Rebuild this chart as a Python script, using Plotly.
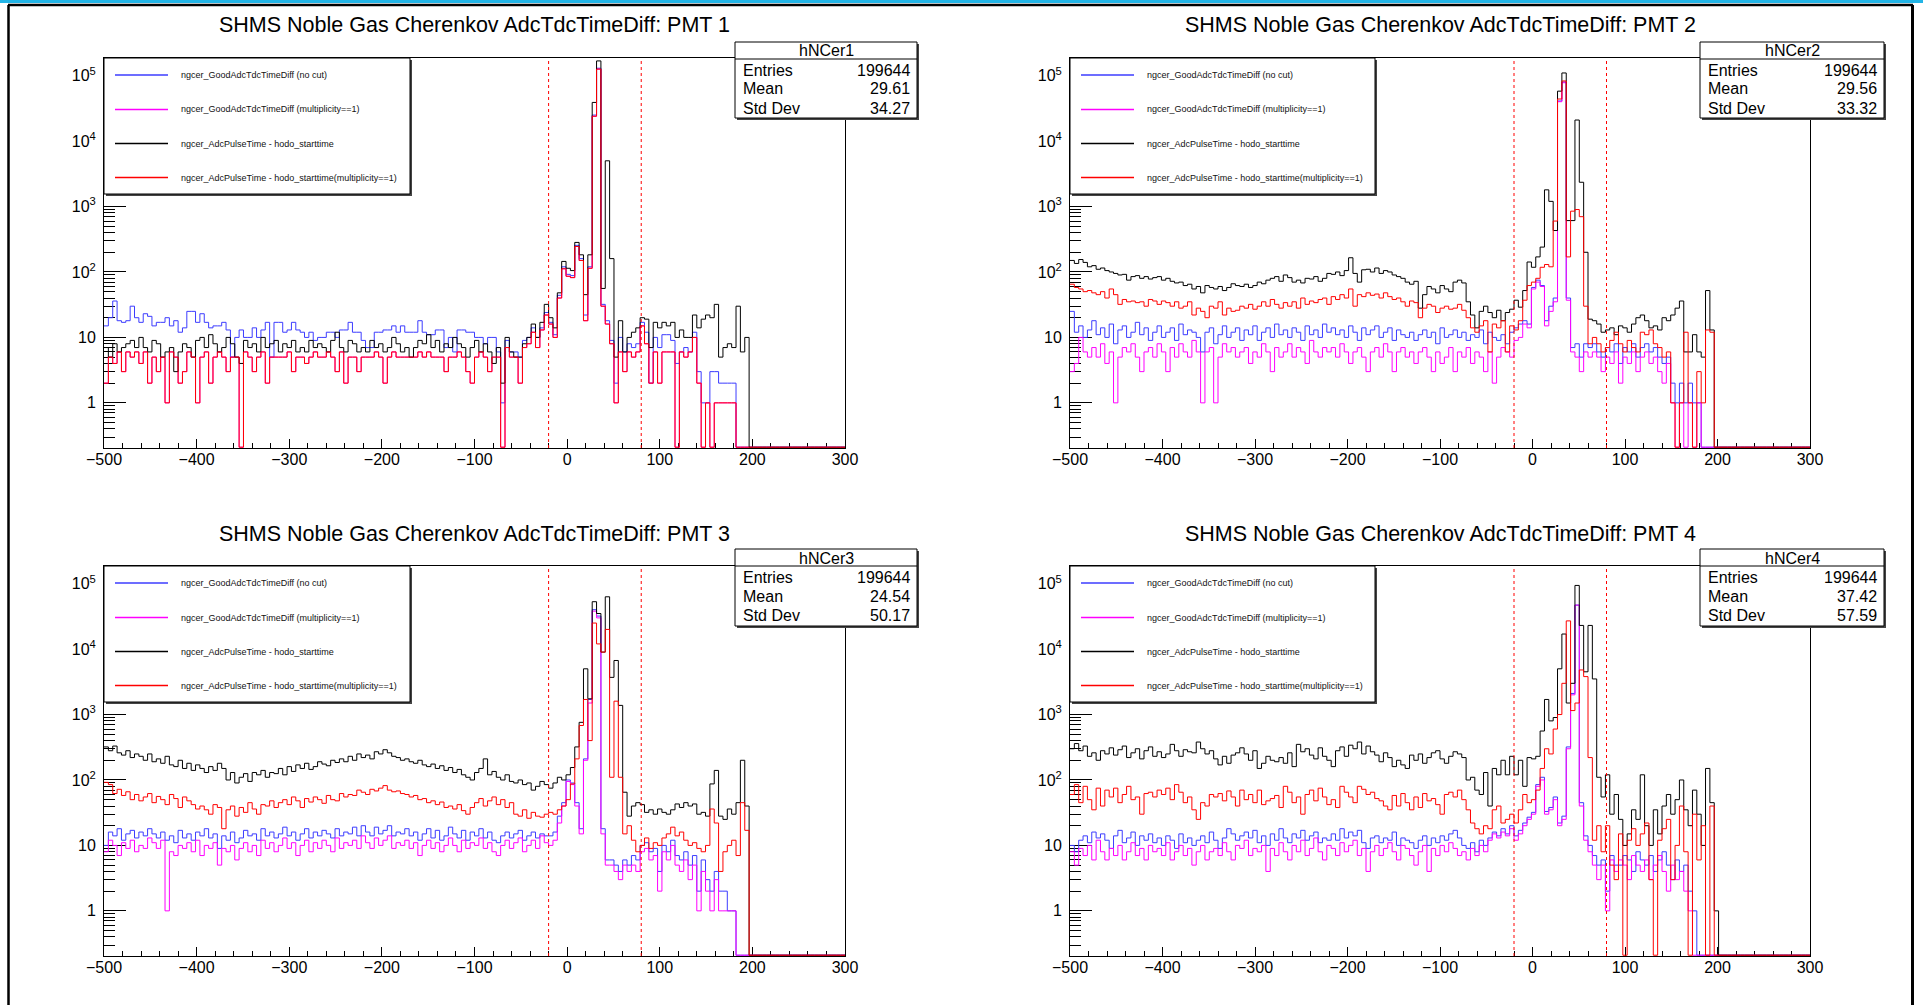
import plotly.graph_objects as go

# ------------------------------------------------------------------ data
X_MIN, X_MAX, N_BINS = -500.0, 300.0, 170
Y_LOG_RANGE = [-0.69, 5.27]
CUT_LINES = [-20, 80]

TITLES = ["SHMS Noble Gas Cherenkov AdcTdcTimeDiff: PMT 1",
          "SHMS Noble Gas Cherenkov AdcTdcTimeDiff: PMT 2",
          "SHMS Noble Gas Cherenkov AdcTdcTimeDiff: PMT 3",
          "SHMS Noble Gas Cherenkov AdcTdcTimeDiff: PMT 4"]
HIST_NAMES = ["hNCer1", "hNCer2", "hNCer3", "hNCer4"]
ENTRIES = [199644, 199644, 199644, 199644]
MEANS = ["29.61", "29.56", "24.54", "37.42"]
STD_DEVS = ["34.27", "33.32", "50.17", "57.59"]
STAT_LABELS = ["Entries", "Mean", "Std Dev"]

LEGEND_LABELS = ["ngcer_GoodAdcTdcTimeDiff (no cut)",
                 "ngcer_GoodAdcTdcTimeDiff (multiplicity==1)",
                 "ngcer_AdcPulseTime - hodo_starttime",
                 "ngcer_AdcPulseTime - hodo_starttime(multiplicity==1)"]
SERIES_COLORS = ["#3c3cff", "#ff00ff", "#000000", "#ff0000"]

X_TICKS = [-500, -400, -300, -200, -100, 0, 100, 200, 300]
X_TICK_TEXT = ["\u2212500", "\u2212400", "\u2212300", "\u2212200", "\u2212100", "0", "100", "200", "300"]
Y_TICKS = [1, 10, 100, 1000, 10000, 100000]
Y_TICK_TEXT = ["1", "10", "10<sup>2</sup>", "10<sup>3</sup>", "10<sup>4</sup>", "10<sup>5</sup>"]

# ---- PMT 1 (170 bins, -500 .. 300)
P1_BLUE = [
    15, 20, 36, 18, 17, 18, 30, 20, 17, 23,
    21, 15, 17, 17, 20, 15, 18, 12, 14, 25,
    25, 17, 23, 17, 14, 15, 15, 17, 13, 5,
    10, 13, 10, 10, 14, 10, 13, 17, 5, 17,
    17, 12, 13, 17, 13, 12, 10, 12, 9, 10,
    10, 12, 12, 10, 13, 13, 17, 12, 12, 9,
    7, 7, 12, 12, 13, 13, 15, 12, 15, 12,
    12, 12, 18, 12, 11, 11, 13, 13, 7, 10,
    6, 13, 13, 12, 12, 10, 10, 8, 10, 10,
    6, 1, 9, 6, 6, 5, 9, 10, 14, 10,
    14, 24, 17, 11, 44, 120, 92, 88, 255, 160,
    22, 120, 25000, 130000, 32, 18, 9, 2, 10, 6,
    8, 7, 8, 17, 12, 2, 10, 7, 11, 11,
    9, 4, 6, 7, 6, 12, 3, 1, 1, 3,
    3, 2, 2, 2, 2, 0, 0, 0, 0, 0,
    0, 0, 0, 0, 0, 0, 0, 0, 0, 0,
    0, 0, 0, 0, 0, 0, 0, 0, 0, 0]
P1_MAGENTA = [
    2, 5, 4, 6, 3, 6, 5, 6, 4, 6,
    2, 5, 3, 5, 1, 6, 5, 2, 3, 6,
    5, 1, 5, 6, 2, 5, 6, 5, 3, 5,
    5, 0, 6, 5, 3, 5, 6, 2, 5, 5,
    5, 5, 6, 3, 5, 5, 4, 5, 6, 5,
    5, 6, 5, 3, 6, 2, 5, 5, 3, 5,
    5, 5, 6, 5, 2, 5, 6, 5, 5, 5,
    5, 5, 6, 5, 6, 5, 5, 5, 3, 5,
    5, 6, 5, 3, 2, 5, 6, 5, 3, 5,
    5, 0, 7, 5, 5, 2, 7, 8, 12, 7,
    13, 22, 16, 10, 40, 112, 86, 82, 245, 150,
    18, 114, 24000, 126000, 30, 16, 8, 1, 6, 3,
    6, 5, 6, 15, 8, 2, 6, 2, 6, 6,
    6, 0, 6, 5, 6, 10, 2, 0, 1, 0,
    1, 1, 1, 1, 1, 0, 0, 0, 0, 0,
    0, 0, 0, 0, 0, 0, 0, 0, 0, 0,
    0, 0, 0, 0, 0, 0, 0, 0, 0, 0]
P1_BLACK = [
    7, 5, 8, 6, 7, 8, 9, 7, 10, 7,
    6, 9, 8, 5, 6, 7, 3, 6, 8, 7,
    5, 9, 10, 7, 11, 8, 6, 7, 10, 8,
    5, 4, 9, 7, 8, 6, 10, 7, 8, 9,
    6, 8, 7, 9, 6, 7, 6, 9, 7, 8,
    7, 6, 9, 12, 7, 6, 9, 8, 6, 7,
    6, 9, 7, 8, 6, 7, 10, 8, 6, 7,
    5, 7, 9, 8, 11, 7, 9, 6, 8, 7,
    10, 8, 7, 5, 7, 9, 6, 8, 6, 4,
    7, 2, 10, 6, 5, 5, 8, 10, 16, 10,
    17, 32, 20, 14, 48, 145, 114, 105, 283, 183,
    45, 183, 39000, 168000, 56, 5000, 160, 5, 18, 6,
    10, 12, 14, 20, 19, 7, 17, 14, 17, 15,
    17, 10, 13, 10, 10, 22, 14, 19, 22, 20,
    32, 5, 7, 8, 7, 30, 6, 10, 0, 0,
    0, 0, 0, 0, 0, 0, 0, 0, 0, 0,
    0, 0, 0, 0, 0, 0, 0, 0, 0, 0]
P1_RED = [
    2, 5, 4, 6, 3, 6, 5, 6, 4, 6,
    2, 5, 3, 5, 1, 6, 5, 2, 3, 6,
    5, 1, 5, 6, 2, 5, 6, 5, 3, 5,
    5, 0, 6, 5, 3, 5, 6, 2, 5, 5,
    5, 5, 6, 3, 5, 5, 4, 5, 6, 5,
    5, 6, 5, 3, 6, 2, 5, 5, 3, 5,
    5, 5, 6, 5, 2, 5, 6, 5, 5, 5,
    5, 5, 6, 5, 6, 5, 5, 5, 3, 5,
    5, 6, 5, 3, 2, 5, 6, 5, 3, 5,
    5, 0, 7, 5, 5, 2, 7, 8, 12, 7,
    13, 22, 16, 10, 40, 112, 86, 82, 245, 150,
    18, 114, 24000, 126000, 30, 16, 8, 1, 6, 3,
    6, 5, 6, 15, 8, 2, 6, 2, 6, 6,
    6, 0, 6, 5, 6, 10, 2, 0, 1, 0,
    1, 1, 1, 1, 1, 0, 0, 0, 0, 0,
    0, 0, 0, 0, 0, 0, 0, 0, 0, 0,
    0, 0, 0, 0, 0, 0, 0, 0, 0, 0]

# ---- PMT 2
P2_BLUE = [
    25, 12, 15, 10, 13, 18, 11, 14, 10, 16,
    8, 13, 15, 10, 12, 17, 11, 14, 9, 12,
    15, 10, 12, 14, 9, 16, 11, 13, 12, 10,
    6, 12, 14, 8, 11, 15, 10, 12, 14, 9,
    13, 11, 15, 9, 12, 14, 10, 16, 11, 13,
    10, 14, 12, 9, 15, 11, 13, 10, 16, 12,
    14, 11, 13, 10, 15, 12, 9, 14, 11, 13,
    15, 10, 12, 14, 9, 13, 11, 10, 12, 9,
    11, 13, 10, 12, 8, 14, 10, 11, 13, 10,
    12, 9, 11, 10, 13, 8, 12, 10, 9, 11,
    8, 12, 14, 16, 18, 16, 58, 75, 62, 18,
    30, 40, 41000, 80000, 40, 7, 8, 5, 8, 7,
    8, 6, 5, 7, 6, 8, 4, 7, 6, 8,
    5, 7, 8, 6, 7, 5, 4, 5, 2, 1,
    2, 1, 2, 1, 1, 0, 0, 0, 0, 0,
    0, 0, 0, 0, 0, 0, 0, 0, 0, 0,
    0, 0, 0, 0, 0, 0, 0, 0, 0, 0]
P2_MAGENTA = [
    3, 4, 10, 6, 5, 7, 5, 8, 4, 6,
    1, 5, 7, 6, 8, 5, 3, 6, 7, 5,
    8, 6, 3, 7, 5, 8, 6, 5, 9, 6,
    1, 6, 7, 1, 5, 8, 6, 7, 5, 6,
    7, 4, 6, 5, 8, 6, 3, 7, 5, 6,
    8, 5, 7, 6, 4, 9, 6, 5, 7, 6,
    7, 5, 8, 6, 4, 6, 7, 5, 3, 6,
    7, 5, 8, 6, 3, 6, 7, 5, 6, 4,
    6, 7, 5, 3, 6, 4, 5, 7, 3, 6,
    5, 7, 4, 6, 5, 3, 6, 2, 5, 7,
    6, 5, 9, 10, 16, 14, 55, 70, 60, 15,
    25, 35, 40000, 78000, 37, 6, 5, 3, 6, 5,
    6, 5, 3, 5, 4, 6, 2, 5, 4, 6,
    3, 5, 6, 4, 5, 3, 2, 4, 1, 0,
    1, 0, 1, 0, 1, 0, 0, 0, 0, 0,
    0, 0, 0, 0, 0, 0, 0, 0, 0, 0,
    0, 0, 0, 0, 0, 0, 0, 0, 0, 0]
P2_BLACK = [
    150, 135, 155, 140, 120, 125, 110, 115, 105, 100,
    95, 90, 92, 75, 85, 88, 80, 85, 78, 82,
    85, 75, 80, 72, 68, 70, 62, 65, 55, 60,
    48, 62, 58, 55, 60, 52, 58, 66, 62, 60,
    65, 58, 62, 70, 66, 75, 80, 85, 72, 90,
    82, 70, 75, 68, 80, 78, 85, 72, 80, 95,
    92, 100, 88, 105, 165, 95, 70, 108, 110, 100,
    115, 95, 105, 100, 90, 85, 80, 70, 65, 72,
    28, 45, 60, 55, 48, 62, 55, 50, 70, 75,
    68, 35, 22, 14, 25, 30, 24, 20, 26, 18,
    24, 27, 37, 29, 52, 142, 118, 170, 240, 1800,
    1200, 430, 58000, 110000, 610, 610, 21000, 2350, 200, 19,
    18, 16, 12, 13, 14, 11, 15, 14, 12, 16,
    20, 22, 18, 14, 15, 13, 20, 18, 22, 28,
    36, 6, 6, 11, 6, 5, 52, 13, 0, 0,
    0, 0, 0, 0, 0, 0, 0, 0, 0, 0,
    0, 0, 0, 0, 0, 0, 0, 0, 0, 0]
P2_RED = [
    65, 58, 55, 50, 52, 48, 45, 50, 40, 55,
    45, 32, 38, 35, 36, 34, 35, 30, 38, 36,
    32, 36, 34, 30, 35, 28, 30, 35, 22, 28,
    25, 20, 30, 28, 35, 22, 28, 25, 26, 30,
    28, 32, 27, 30, 35, 30, 38, 32, 28, 34,
    30, 35, 28, 40, 32, 36, 34, 38, 40, 32,
    42, 38, 45, 40, 55, 30, 45, 42, 48, 44,
    46, 40, 48, 42, 38, 40, 35, 30, 36, 34,
    20, 28, 32, 30, 24, 28, 30, 27, 28, 32,
    26, 20, 14, 12, 15, 18, 6, 16, 14, 18,
    6, 15, 13, 18, 37, 62, 70, 80, 118, 130,
    120, 600, 44000, 83000, 170, 850, 900, 700, 30, 8,
    10, 8, 6, 7, 9, 12, 8, 6, 9, 7,
    6, 12, 11, 13, 8, 7, 5, 6, 1, 0,
    1, 12, 1, 0, 3, 1, 13, 12, 0, 0,
    0, 0, 0, 0, 0, 0, 0, 0, 0, 0,
    0, 0, 0, 0, 0, 0, 0, 0, 0, 0]

# ---- PMT 3
P3_BLUE = [
    10, 16, 14, 18, 12, 15, 17, 13, 16, 14,
    18, 15, 13, 16, 12, 14, 11, 17, 13, 15,
    12, 16, 14, 18, 13, 15, 9, 14, 12, 16,
    11, 13, 17, 14, 15, 12, 18, 14, 16, 13,
    15, 19, 14, 16, 12, 15, 18, 13, 16, 14,
    17, 15, 13, 18, 14, 16, 15, 19, 14, 20,
    16, 14, 19, 15, 17, 20, 14, 16, 15, 18,
    14, 16, 12, 15, 18, 13, 17, 12, 14, 19,
    15, 13, 17, 12, 16, 14, 18, 13, 16, 12,
    11, 14, 16, 13, 15, 17, 12, 14, 16, 13,
    15, 14, 14, 16, 28, 45, 100, 90, 45, 18,
    210, 1700, 40000, 32000, 18, 6, 6, 5, 4, 6,
    5, 7, 6, 10, 11, 8, 9, 4, 10, 8,
    12, 7, 6, 8, 5, 7, 2, 6, 3, 2,
    4, 2, 2, 1, 1, 0, 0, 0, 0, 0,
    0, 0, 0, 0, 0, 0, 0, 0, 0, 0,
    0, 0, 0, 0, 0, 0, 0, 0, 0, 0]
P3_MAGENTA = [
    8, 12, 10, 7, 11, 9, 12, 8, 10, 9,
    13, 11, 9, 12, 1, 8, 7, 10, 9, 11,
    8, 12, 7, 10, 9, 11, 5, 9, 8, 10,
    6, 9, 11, 8, 10, 7, 12, 9, 11, 8,
    10, 13, 9, 11, 7, 10, 12, 8, 11, 9,
    12, 10, 8, 13, 9, 11, 10, 12, 9, 14,
    11, 9, 13, 10, 12, 14, 9, 11, 10, 12,
    9, 11, 7, 10, 12, 9, 11, 8, 10, 13,
    10, 8, 12, 9, 11, 10, 13, 9, 11, 8,
    7, 10, 12, 9, 11, 13, 8, 10, 12, 9,
    14, 11, 10, 12, 22, 40, 95, 85, 40, 15,
    200, 1500, 38000, 30000, 15, 5, 5, 4, 3, 5,
    4, 5, 4, 8, 9, 6, 7, 2, 8, 6,
    10, 5, 4, 6, 3, 5, 1, 4, 2, 1,
    3, 1, 1, 1, 1, 0, 0, 0, 0, 0,
    0, 0, 0, 0, 0, 0, 0, 0, 0, 0,
    0, 0, 0, 0, 0, 0, 0, 0, 0, 0]
P3_BLACK = [
    320, 280, 330, 260, 240, 280, 220, 250, 230, 200,
    250, 190, 210, 180, 230, 170, 160, 200, 150, 180,
    140, 170, 150, 130, 160, 140, 180, 150, 100, 130,
    90, 110, 125, 95, 130, 120, 140, 110, 130, 125,
    150, 120, 160, 135, 170, 150, 180, 145, 160, 190,
    175, 165, 200, 185, 210, 190, 230, 200, 250, 220,
    240, 210, 270, 250, 290, 260, 230, 220, 200, 210,
    190, 180, 200, 170, 160, 175, 150, 165, 140, 155,
    130, 145, 120, 110, 100, 130, 150, 210, 120, 135,
    110, 100, 120, 95, 90, 100, 85, 90, 70, 80,
    95, 85, 75, 90, 110, 100, 120, 155, 320, 760,
    5000, 1740, 53000, 35000, 9000, 63000, 3700, 6700, 1380, 65,
    28, 40, 45, 42, 32, 35, 30, 36, 32, 30,
    35, 43, 38, 45, 40, 43, 30, 32, 28, 87,
    140, 28, 25, 36, 30, 45, 200, 40, 0, 0,
    0, 0, 0, 0, 0, 0, 0, 0, 0, 0,
    0, 0, 0, 0, 0, 0, 0, 0, 0, 0]
P3_RED = [
    92, 85, 62, 72, 58, 66, 50, 60, 48, 55,
    62, 45, 56, 50, 42, 60, 52, 38, 55, 48,
    42, 36, 40, 35, 30, 42, 38, 18, 35, 40,
    28, 38, 32, 45, 36, 30, 42, 40, 48, 38,
    45, 50, 42, 55, 48, 38, 52, 46, 55, 50,
    44, 58, 50, 48, 62, 55, 60, 58, 70, 65,
    60, 72, 68, 75, 82, 70, 66, 68, 62, 60,
    55, 58, 50, 52, 45, 48, 42, 46, 38, 40,
    36, 42, 34, 30, 38, 45, 52, 40, 48, 55,
    42, 50, 38, 45, 30, 28, 35, 26, 32, 28,
    27, 30, 32, 30, 35, 40, 50, 87, 210, 680,
    1700, 400, 25000, 12000, 9000, 20000, 110, 1600, 110, 15,
    20, 12, 8, 10, 13, 9, 11, 10, 13, 15,
    19, 14, 16, 12, 10, 11, 9, 8, 10, 36,
    22, 4, 8, 10, 12, 7, 45, 17, 0, 0,
    0, 0, 0, 0, 0, 0, 0, 0, 0, 0,
    0, 0, 0, 0, 0, 0, 0, 0, 0, 0]

# ---- PMT 4
P4_BLUE = [
    10, 8, 12, 14, 11, 16, 13, 15, 12, 9,
    14, 17, 11, 13, 16, 10, 14, 12, 15, 11,
    13, 10, 14, 12, 9, 15, 11, 13, 10, 12,
    14, 11, 16, 12, 9, 13, 18, 15, 12, 14,
    16, 13, 17, 11, 14, 10, 15, 12, 18, 13,
    11, 15, 13, 17, 12, 14, 16, 11, 13, 12,
    15, 12, 18, 13, 16, 14, 17, 11, 9, 13,
    14, 11, 13, 12, 16, 10, 13, 12, 11, 9,
    12, 14, 10, 13, 11, 14, 12, 15, 17, 13,
    10, 9, 11, 8, 12, 10, 13, 16, 14, 18,
    15, 20, 14, 17, 22, 27, 32, 85, 110, 33,
    38, 55, 22, 28, 320, 2100, 47000, 45, 14, 10,
    7, 5, 6, 2, 7, 5, 5, 7, 6, 4,
    8, 6, 5, 7, 4, 6, 8, 5, 3, 6,
    4, 5, 2, 1, 0, 0, 0, 0, 0, 0,
    0, 0, 0, 0, 0, 0, 0, 0, 0, 0,
    0, 0, 0, 0, 0, 0, 0, 0, 0, 0]
P4_MAGENTA = [
    8, 5, 9, 7, 10, 6, 12, 8, 6, 9,
    7, 10, 6, 8, 11, 7, 9, 6, 10, 8,
    9, 7, 11, 6, 8, 10, 7, 9, 5, 8,
    10, 6, 8, 9, 7, 11, 8, 6, 10, 9,
    12, 7, 9, 8, 10, 4, 9, 7, 11, 8,
    6, 10, 8, 12, 7, 9, 13, 8, 6, 10,
    9, 7, 11, 8, 10, 12, 7, 9, 4, 8,
    10, 7, 9, 11, 8, 6, 10, 9, 7, 5,
    8, 10, 4, 9, 7, 10, 8, 11, 9, 7,
    8, 6, 9, 7, 10, 8, 12, 15, 13, 16,
    14, 18, 12, 15, 20, 25, 30, 80, 100, 30,
    35, 50, 20, 25, 300, 2000, 47000, 40, 12, 8,
    5, 3, 5, 1, 6, 4, 6, 5, 3, 7,
    5, 4, 6, 3, 5, 7, 4, 2, 5, 3,
    4, 2, 1, 0, 0, 0, 0, 0, 0, 0,
    0, 0, 0, 0, 0, 0, 0, 0, 0, 0,
    0, 0, 0, 0, 0, 0, 0, 0, 0, 0]
P4_BLACK = [
    300, 360, 280, 330, 230, 260, 200, 280, 250, 310,
    240, 290, 330, 220, 260, 300, 210, 280, 320, 230,
    270, 220, 250, 350, 280, 230, 290, 270, 260, 380,
    300, 250, 280, 210, 170, 230, 180, 240, 260, 310,
    250, 200, 280, 150, 180, 230, 200, 190, 220, 180,
    260, 160, 350, 270, 300, 240, 210, 310, 230, 200,
    160, 280, 320, 230, 340, 300, 380, 250, 330, 270,
    240, 190, 260, 220, 160, 200, 170, 150, 240, 200,
    250, 180, 220, 260, 280, 210, 180, 230, 270, 250,
    220, 100, 110, 70, 60, 130, 40, 150, 120, 200,
    120, 230, 120, 200, 80, 220, 210, 230, 560, 1700,
    800, 900, 5000, 17000, 1500, 3000, 94000, 23000, 4500, 23000,
    3500, 110, 55, 120, 30, 60, 25, 10, 15, 35,
    25, 120, 20, 10, 35, 15, 40, 60, 30, 50,
    100, 35, 20, 70, 30, 10, 150, 45, 1, 0,
    0, 0, 0, 0, 0, 0, 0, 0, 0, 0,
    0, 0, 0, 0, 0, 0, 0, 0, 0, 0]
P4_RED = [
    60, 85, 45, 80, 50, 35, 75, 40, 70, 55,
    75, 45, 60, 80, 50, 55, 30, 62, 65, 55,
    70, 60, 75, 50, 85, 65, 45, 55, 35, 25,
    45, 40, 60, 55, 62, 48, 68, 55, 40, 70,
    50, 60, 45, 70, 42, 48, 52, 58, 38, 80,
    65, 45, 55, 30, 60, 70, 48, 75, 55, 42,
    50, 38, 80, 65, 55, 45, 80, 72, 60, 65,
    52, 48, 40, 35, 58, 40, 62, 45, 35, 55,
    38, 62, 48, 52, 42, 30, 60, 65, 55, 70,
    50, 35, 22, 18, 15, 20, 18, 35, 40, 22,
    25, 30, 22, 35, 60, 45, 50, 70, 150, 300,
    250, 600, 1000, 3000, 27000, 1150, 1500, 4800, 3800, 220,
    12, 20, 8, 20, 5, 3, 15, 0, 12, 18,
    10, 15, 22, 3, 0, 12, 18, 25, 3, 10,
    40, 8, 0, 30, 6, 20, 0, 40, 0, 0,
    0, 0, 0, 0, 0, 0, 0, 0, 0, 0,
    0, 0, 0, 0, 0, 0, 0, 0, 0, 0]

PANEL_SERIES = [
    [P1_BLUE, P1_MAGENTA, P1_BLACK, P1_RED],
    [P2_BLUE, P2_MAGENTA, P2_BLACK, P2_RED],
    [P3_BLUE, P3_MAGENTA, P3_BLACK, P3_RED],
    [P4_BLUE, P4_MAGENTA, P4_BLACK, P4_RED],
]

# ------------------------------------------------------------------ layout geometry (pixels)
W, H = 1923, 1005
FONT = "Liberation Sans, Arial, Helvetica, sans-serif"
PANELS = [
    dict(ax0=104, ax1=845, top=58, bot=448, title_y=25, sb=(735, 42, 917, 118), lg=(104, 58, 410, 194)),
    dict(ax0=1070, ax1=1810, top=58, bot=448, title_y=25, sb=(1700, 42, 1884, 118), lg=(1070, 58, 1375, 194)),
    dict(ax0=104, ax1=845, top=566, bot=956, title_y=534, sb=(735, 549, 917, 626), lg=(104, 566, 410, 702)),
    dict(ax0=1070, ax1=1810, top=566, bot=956, title_y=534, sb=(1700, 549, 1884, 626), lg=(1070, 566, 1375, 702)),
]


def px(x):
    return x / W


def py(y):
    return 1 - y / H


fig = go.Figure()
shapes = []
annotations = []
bin_w = (X_MAX - X_MIN) / N_BINS
zero_level = 10 ** (Y_LOG_RANGE[0] + 0.012)
minor_log = [m * 10 ** k for k in range(-1, 6) for m in range(2, 10)]

for i, (pan, series) in enumerate(zip(PANELS, PANEL_SERIES)):
    n = i + 1
    xa, ya = ("x" if n == 1 else f"x{n}"), ("y" if n == 1 else f"y{n}")
    for vals, col in zip(series, SERIES_COLORS):
        edges = [X_MIN + k * bin_w for k in range(len(vals) + 1)]
        yv = [v if v > 0 else zero_level for v in vals]
        yv = yv + [yv[-1]]
        fig.add_trace(go.Scatter(x=edges, y=yv, mode="lines",
                                 line=dict(color=col, width=1, shape="hv"),
                                 xaxis=xa, yaxis=ya, showlegend=False, hoverinfo="skip"))
    axis_common = dict(showline=True, mirror=True, linecolor="black", linewidth=1,
                       ticks="inside", tickcolor="black", tickwidth=1, showgrid=False,
                       zeroline=False, layer="below traces", automargin=False,
                       tickfont=dict(family=FONT, size=16, color="black"))
    fig.layout[f"xaxis{n}"] = dict(axis_common, domain=[px(pan["ax0"]), px(pan["ax1"])],
                                   range=[X_MIN, X_MAX], anchor=ya, ticklen=9, ticklabelstandoff=-3,
                                   tickmode="array", tickvals=X_TICKS, ticktext=X_TICK_TEXT,
                                   minor=dict(tickmode="linear", tick0=X_MIN, dtick=20, ticks="inside",
                                              ticklen=5, tickcolor="black"))
    fig.layout[f"yaxis{n}"] = dict(axis_common, domain=[py(pan["bot"]), py(pan["top"])],
                                   type="log", range=Y_LOG_RANGE, anchor=xa, ticklen=22, ticklabelstandoff=4,
                                   tickmode="array", tickvals=Y_TICKS, ticktext=Y_TICK_TEXT,
                                   minor=dict(tickmode="array", tickvals=minor_log, ticks="inside",
                                              ticklen=11, tickcolor="black"))
    # cut lines
    for c in CUT_LINES:
        shapes.append(dict(type="line", xref=xa, yref=f"{ya} domain", x0=c, x1=c, y0=0, y1=1,
                           line=dict(color="#ff0000", width=1, dash="3px,3px"), layer="above"))
    # title
    annotations.append(dict(text=TITLES[i], x=px((pan["ax0"] + pan["ax1"]) / 2), y=py(pan["title_y"]),
                            xref="paper", yref="paper", showarrow=False, xanchor="center", yanchor="middle",
                            font=dict(family=FONT, size=21.5, color="black")))
    # legend box
    lx0, ly0, lx1, ly1 = pan["lg"]
    shapes.append(dict(type="rect", xref="paper", yref="paper", x0=px(lx0 + 2), x1=px(lx1 + 2),
                       y0=py(ly1 + 2), y1=py(ly0 + 2), fillcolor="#444", line=dict(width=0), layer="above"))
    shapes.append(dict(type="rect", xref="paper", yref="paper", x0=px(lx0), x1=px(lx1),
                       y0=py(ly1), y1=py(ly0), fillcolor="white", line=dict(color="black", width=1),
                       layer="above"))
    for k, (lab, col) in enumerate(zip(LEGEND_LABELS, SERIES_COLORS)):
        yy = ly0 + [17, 51.5, 85.5, 119.5][k]
        shapes.append(dict(type="line", xref="paper", yref="paper", x0=px(lx0 + 11), x1=px(lx0 + 64),
                           y0=py(yy), y1=py(yy), line=dict(color=col, width=1.5), layer="above"))
        annotations.append(dict(text=lab, x=px(lx0 + 75), y=py(yy), xref="paper", yref="paper",
                                showarrow=False, xanchor="left", yanchor="middle",
                                font=dict(family=FONT, size=9, color="#111")))
    # stats box
    sx0, sy0, sx1, sy1 = pan["sb"]
    shapes.append(dict(type="rect", xref="paper", yref="paper", x0=px(sx0 + 2), x1=px(sx1 + 2),
                       y0=py(sy1 + 2), y1=py(sy0 + 2), fillcolor="#444", line=dict(width=0), layer="above"))
    shapes.append(dict(type="rect", xref="paper", yref="paper", x0=px(sx0), x1=px(sx1),
                       y0=py(sy1), y1=py(sy0), fillcolor="white", line=dict(color="black", width=1),
                       layer="above"))
    shapes.append(dict(type="line", xref="paper", yref="paper", x0=px(sx0), x1=px(sx1),
                       y0=py(sy0 + 17), y1=py(sy0 + 17), line=dict(color="black", width=1), layer="above"))
    annotations.append(dict(text=HIST_NAMES[i], x=px((sx0 + sx1) / 2), y=py(sy0 + 9), xref="paper",
                            yref="paper", showarrow=False, xanchor="center", yanchor="middle",
                            font=dict(family=FONT, size=16, color="black")))
    stat_vals = [str(ENTRIES[i]), MEANS[i], STD_DEVS[i]]
    for k, (lab, val) in enumerate(zip(STAT_LABELS, stat_vals)):
        yy = sy0 + [28.5, 47, 66][k]
        annotations.append(dict(text=lab, x=px(sx0 + 6), y=py(yy), xref="paper", yref="paper",
                                showarrow=False, xanchor="left", yanchor="middle",
                                font=dict(family=FONT, size=16, color="black")))
        annotations.append(dict(text=val, x=px(sx1 - 5), y=py(yy), xref="paper", yref="paper",
                                showarrow=False, xanchor="right", yanchor="middle",
                                font=dict(family=FONT, size=16, color="black")))

# window decorations: cyan top strip and black border
shapes.append(dict(type="rect", xref="paper", yref="paper", x0=0, x1=1, y0=py(3), y1=1,
                   fillcolor="#22b4e6", line=dict(width=0), layer="above"))
shapes.append(dict(type="line", xref="paper", yref="paper", x0=px(8), x1=px(1913), y0=py(5), y1=py(5),
                   line=dict(color="black", width=2.5), layer="above"))
shapes.append(dict(type="line", xref="paper", yref="paper", x0=px(8.5), x1=px(8.5), y0=py(5), y1=0,
                   line=dict(color="black", width=2.5), layer="above"))
shapes.append(dict(type="line", xref="paper", yref="paper", x0=px(1912.5), x1=px(1912.5), y0=py(5), y1=0,
                   line=dict(color="black", width=3), layer="above"))

fig.update_layout(width=W, height=H, autosize=False,
                  margin=dict(l=0, r=0, t=0, b=0, pad=0, autoexpand=False),
                  paper_bgcolor="white", plot_bgcolor="white", showlegend=False,
                  shapes=shapes, annotations=annotations,
                  font=dict(family=FONT, color="black"))

fig.write_html("out.html")
